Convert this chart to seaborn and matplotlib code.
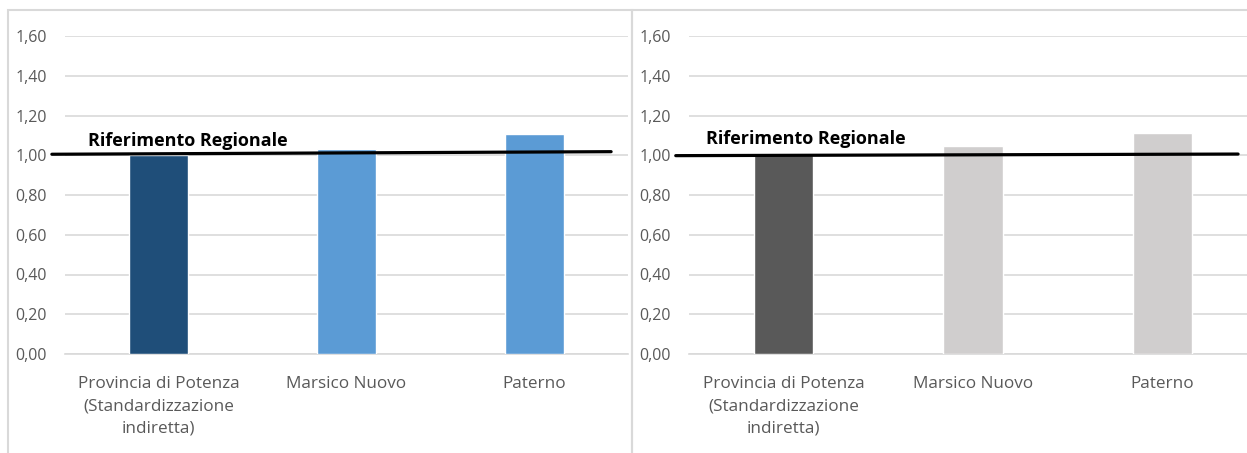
import matplotlib
matplotlib.use("Agg")
import matplotlib.pyplot as plt
import seaborn as sns
import pandas as pd
from matplotlib.patches import Rectangle

categories = ["Provincia di Potenza\n(Standardizzazione\nindiretta)", "Marsico Nuovo", "Paterno"]
values_left = [1.00, 1.03, 1.105]
values_right = [1.00, 1.045, 1.11]
colors_left = ["#1f4e79", "#5b9bd5", "#5b9bd5"]
colors_right = ["#595959", "#d0cece", "#d0cece"]
ref_x_left = [-0.57, 2.41]
ref_y_left = [1.005, 1.018]
ref_x_right = [-0.57, 2.40]
ref_y_right = [0.998, 1.006]
ref_label = "Riferimento Regionale"
yticks = [0.0, 0.2, 0.4, 0.6, 0.8, 1.0, 1.2, 1.4, 1.6]
ytick_labels = ["0,00", "0,20", "0,40", "0,60", "0,80", "1,00", "1,20", "1,40", "1,60"]

sns.set_theme(style="white")
plt.rcParams["font.family"] = ["Open Sans", "DejaVu Sans"]

W, H = 1247, 453
fig = plt.figure(figsize=(W / 100, H / 100), dpi=100)
fig.patch.set_facecolor("white")

# chart area borders
fig.patches.append(Rectangle((8 / W, -0.1), (632 - 8) / W, 1.1 - 10 / H, transform=fig.transFigure,
                             fill=False, edgecolor="#d9d9d9", linewidth=1.5, zorder=0))
fig.patches.append(Rectangle((632 / W, -0.1), 0.5, 1.1 - 10 / H, transform=fig.transFigure,
                             fill=False, edgecolor="#d9d9d9", linewidth=1.5, zorder=0))

bottom = (H - 354) / H
top = (H - 36) / H
ax1 = fig.add_axes([65 / W, bottom, (628 - 65) / W, top - bottom])
ax2 = fig.add_axes([689 / W, bottom, (1257 - 689) / W, top - bottom])

panels = [
    (ax1, values_left, colors_left, ref_x_left, ref_y_left, (-0.38, 1.07)),
    (ax2, values_right, colors_right, ref_x_right, ref_y_right, (-0.41, 1.08)),
]

for ax, vals, cols, rx, ry, lab_pos in panels:
    df = pd.DataFrame({"cat": categories, "val": vals})
    sns.barplot(data=df, x="cat", y="val", hue="cat", palette=cols, width=0.315,
                legend=False, ax=ax, saturation=1, zorder=3)
    ax.set_xlim(-0.5, 2.5)
    ax.set_ylim(0, 1.6)
    ax.set_yticks(yticks)
    ax.set_yticklabels(ytick_labels)
    ax.set_xlabel("")
    ax.set_ylabel("")
    ax.set_facecolor("none")
    for s in ["top", "right", "left"]:
        ax.spines[s].set_visible(False)
    ax.spines["bottom"].set_color("#d9d9d9")
    ax.spines["bottom"].set_linewidth(1.2)
    ax.yaxis.grid(True, color="#d9d9d9", linewidth=1.2, zorder=0)
    ax.set_axisbelow(True)
    ax.tick_params(axis="y", length=0, pad=13, labelsize=11.5, labelcolor="#595959")
    ax.tick_params(axis="x", length=0, pad=16, labelsize=12.3, labelcolor="#595959")
    for t in ax.get_xticklabels():
        t.set_linespacing(1.5)
    ax.plot(rx, ry, color="black", linewidth=2.3, zorder=5, clip_on=False)
    ax.text(lab_pos[0], lab_pos[1], ref_label, fontsize=13, fontweight="bold",
            color="black", ha="left", va="center", zorder=6,
            family=["Open Sans", "DejaVu Sans"])

fig.savefig("out.png", dpi=100, facecolor="white")
